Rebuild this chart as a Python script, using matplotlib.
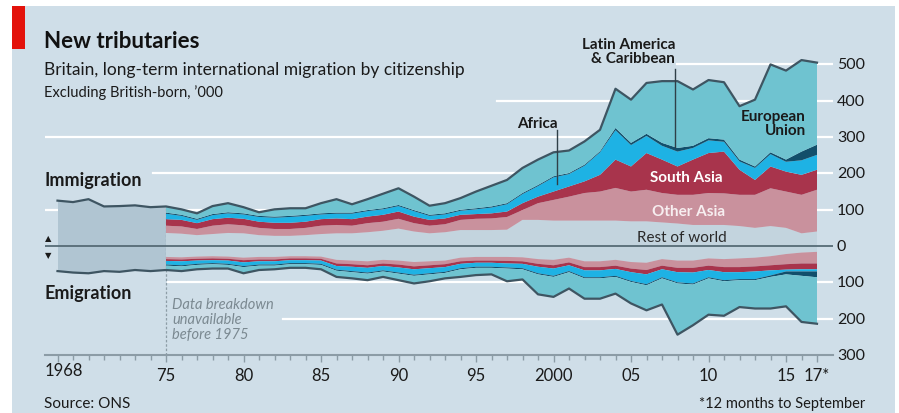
import numpy as np
import matplotlib
matplotlib.use("Agg")
import matplotlib.pyplot as plt
from matplotlib.patches import Rectangle

plt.rcParams['font.family'] = ['Lato', 'DejaVu Sans']

# Years with a breakdown by citizenship ('000), last point is 12 months to Sep 2017
years = list(range(1975, 2018))
# Totals only before 1975
pre_years = list(range(1968, 1975))
pre_immigration = [125, 121, 129, 109, 110, 112, 107]
pre_emigration = [69, 73, 75, 69, 71, 66, 69]

# Immigration by citizenship
imm_rest = [36, 34, 30, 33, 36, 35, 30, 28, 28, 30, 33, 35, 35, 38, 42, 48, 40, 35, 38, 44, 44, 44, 45,
            72, 72, 70, 70, 70, 70, 70, 68, 68, 65, 62, 58, 58, 58, 55, 50, 55, 50, 35, 40]
imm_other_asia = [20, 20, 17, 23, 24, 22, 20, 19, 19, 20, 23, 23, 21, 25, 25, 27, 23, 21, 22, 28, 31, 32, 35,
                  27, 46, 57, 66, 76, 80, 90, 82, 87, 81, 79, 83, 88, 87, 86, 91, 104, 100, 106, 115]
imm_south_asia = [18, 18, 16, 18, 18, 18, 17, 17, 17, 17, 18, 18, 18, 18, 19, 20, 18, 16, 16, 14, 13, 14, 15,
                  19, 18, 23, 28, 32, 46, 78, 69, 101, 92, 78, 97, 110, 115, 69, 41, 60, 55, 55, 55]
imm_africa = [15, 11, 9, 11, 12, 12, 13, 14, 16, 16, 13, 13, 15, 15, 15, 15, 15, 11, 11, 11, 13, 16, 20,
              25, 29, 39, 34, 43, 62, 81, 59, 47, 38, 41, 32, 35, 27, 23, 33, 34, 27, 40, 41]
imm_latam = [3] * 29 + [6, 6, 6, 8, 10, 6, 6, 6, 5, 4, 5, 6, 24, 28]
imm_eu = [17, 15, 15, 22, 25, 17, 10, 20, 21, 18, 28, 37, 23, 30, 40, 46, 37, 25, 28, 32, 46, 57, 64,
          69, 70, 66, 62, 64, 59, 108, 119, 140, 170, 184, 155, 160, 158, 147, 184, 242, 245, 252, 226]

# Emigration by citizenship
emi_rest = [30, 31, 29, 28, 29, 32, 30, 30, 28, 28, 29, 38, 40, 42, 38, 40, 44, 42, 40,
            32, 30, 30, 30, 31, 36, 38, 32, 42, 42, 38, 44, 46, 36, 40, 40, 34, 36, 34, 32, 28, 22, 18, 16]
emi_other_asia = [6, 6, 6, 6, 6, 7, 7, 7, 6, 6, 6, 10, 10, 11, 10, 11, 12, 11, 10,
                  10, 10, 10, 11, 11, 13, 15, 13, 16, 16, 16, 18, 20, 18, 20, 20, 20, 22, 24, 24, 25, 28, 30, 32]
emi_south_asia = [5, 5, 5, 5, 5, 6, 5, 5, 5, 5, 5, 7, 7, 7, 7, 8, 8, 8, 8,
                  7, 6, 6, 7, 7, 8, 9, 8, 9, 9, 9, 10, 12, 10, 12, 13, 12, 14, 14, 14, 14, 15, 16, 16]
emi_africa = [10, 11, 9, 8, 9, 10, 9, 9, 8, 8, 9, 10, 12, 13, 12, 14, 15, 14, 13,
              12, 11, 11, 11, 12, 18, 20, 16, 19, 19, 19, 24, 27, 22, 28, 30, 20, 22, 19, 21, 14, 5, 6, 6]
emi_latam = [3] * 39 + [4, 8, 12, 16]
emi_eu = [12, 13, 12, 12, 10, 17, 12, 10, 10, 10, 12, 17, 17, 18, 15, 18, 21, 19, 15,
          21, 20, 18, 35, 28, 55, 55, 45, 56, 56, 46, 59, 69, 72, 141, 112, 100, 95, 74, 78, 87, 88, 127, 128]

colors = ['#c3d4de', '#c9919d', '#a8344c', '#1eb2e4', '#124f6b', '#6fc3d0']
bg = '#cfdee8'
outline = '#3e5562'

imm = np.array([imm_rest, imm_other_asia, imm_south_asia, imm_africa, imm_latam, imm_eu])
emi = np.array([emi_rest, emi_other_asia, emi_south_asia, emi_africa, emi_latam, emi_eu])
imm_total = imm.sum(axis=0)
emi_total = emi.sum(axis=0)

fig = plt.figure(figsize=(8.99, 4.14), dpi=100)
fig.patch.set_facecolor('white')
fig.add_artist(Rectangle((12 / 899, 0), 883 / 899, 407 / 414, transform=fig.transFigure,
                         facecolor=bg, edgecolor='none', zorder=-2))
fig.add_artist(Rectangle((12 / 899, 1 - 50 / 414), 13 / 899, 43 / 414, transform=fig.transFigure,
                         facecolor='#e3120b', edgecolor='none', zorder=-1))

ax = fig.add_axes([45 / 899, 58 / 414, 788 / 899, 316 / 414])
ax.patch.set_visible(False)
ax.set_xlim(1975 - 121 / 15.5, 1975 + 667 / 15.5)
ax.set_ylim(-300, 570)

# white gridlines, each starting where the text around it ends
for val, start in [(500, 677), (400, 497), (300, 45), (200, 153), (100, 45), (-100, 168), (-200, 283)]:
    ax.axhline(val, xmin=(start - 45) / 788, xmax=1, color='white', lw=1.6, zorder=1)

# totals before the breakdown
block_x = pre_years + [1975]
ax.fill_between(block_x, [-v for v in pre_emigration] + [-emi_total[0]],
                pre_immigration + [imm_total[0]], color='#b0c5d2', lw=0, zorder=1.5)
ax.plot([1975, 1975], [-300, imm_total[0]], color='#8d9da6', lw=0.9, ls=(0, (2, 1.5)), zorder=1.6)

ax.stackplot(years, imm, colors=colors, lw=0, zorder=2)
ax.stackplot(years, -emi, colors=colors, lw=0, zorder=2)

ax.plot(pre_years + years, pre_immigration + list(imm_total), color=outline, lw=1.6, zorder=3)
ax.plot(pre_years + years, [-v for v in pre_emigration] + list(-emi_total), color=outline, lw=1.6, zorder=3)
ax.axhline(0, color='#566b75', lw=1.3, zorder=4)

# axes
for s in ['top', 'right', 'left']:
    ax.spines[s].set_visible(False)
ax.spines['bottom'].set_color('#8c9ca6')
ax.spines['bottom'].set_linewidth(1.5)
ax.set_yticks([])
ax.set_xticks([1968, 1975, 1980, 1985, 1990, 1995, 2000, 2005, 2010, 2015, 2017],
              labels=['', '75', '80', '85', '90', '95', '2000', '05', '10', '15', '17*'])
ax.set_xticks(range(1968, 2018), minor=True)
ax.tick_params(axis='x', which='major', length=5, width=1, color='#8c9ca6', pad=4,
               labelsize=12, labelcolor='#1a1a1a')
ax.tick_params(axis='x', which='minor', length=3.5, width=1, color='#8c9ca6')
ax.text(0, -0.022, '1968', transform=ax.transAxes, ha='left', va='top', fontsize=12, color='#1a1a1a')

for val in [500, 400, 300, 200, 100, 0, -100, -200, -300]:
    ax.text(1.005, val, str(abs(val)), transform=ax.get_yaxis_transform(), ha='left', va='center',
            fontsize=11.5, color='#1a1a1a')

# labels inside the chart
ax.text(1967.13, 184, 'Immigration', fontsize=13, fontweight='bold', color='#1a1a1a', va='center')
ax.text(1967.13, -127, 'Emigration', fontsize=13, fontweight='bold', color='#1a1a1a', va='center')
ax.text(1967.4, 24, '\u25b2', fontsize=6, color='#1a1a1a', ha='center', va='center', family='DejaVu Sans')
ax.text(1967.4, -23, '\u25bc', fontsize=6, color='#1a1a1a', ha='center', va='center', family='DejaVu Sans')
ax.text(1975.39, -139, 'Data breakdown\nunavailable\nbefore 1975', fontsize=10.5, style='italic',
        color='#7b8991', ha='left', va='top', linespacing=1.1)

ax.text(2007.84, 537, 'Latin America\n& Caribbean', fontsize=11, fontweight='bold', color='#1a1a1a',
        ha='right', va='center', linespacing=1.05)
ax.plot([2007.84, 2007.84], [487, 272], color='#2f3f47', lw=1, zorder=5)
ax.text(2000.3, 340, 'Africa', fontsize=11, fontweight='bold', color='#1a1a1a', ha='right', va='center')
ax.plot([2000.23, 2000.23], [319, 172], color='#2f3f47', lw=1, zorder=5)
ax.text(2016.29, 340, 'European\nUnion', fontsize=11, fontweight='bold', color='#1a1a1a',
        ha='right', va='center', linespacing=1.0)
ax.text(2008.6, 190, 'South Asia', fontsize=11, fontweight='bold', color='white', ha='center', va='center')
ax.text(2008.7, 96, 'Other Asia', fontsize=11, fontweight='bold', color='#f7eef0', ha='center', va='center')
ax.text(2008.3, 24, 'Rest of world', fontsize=11, color='#2a2a2a', ha='center', va='center')

# header and footer
fig.text(44 / 899, 1 - 48 / 414, 'New tributaries', fontsize=16, fontweight='bold', color='#111111',
         va='baseline')
fig.text(44 / 899, 1 - 75 / 414, 'Britain, long-term international migration by citizenship',
         fontsize=12.5, color='#1a1a1a', va='baseline')
fig.text(44 / 899, 1 - 97 / 414, 'Excluding British-born, \u2019000', fontsize=10.5, color='#1a1a1a',
         va='baseline')
fig.text(44 / 899, 1 - 408 / 414, 'Source: ONS', fontsize=11, color='#1a1a1a', va='baseline')
fig.text(865 / 899, 1 - 408 / 414, '*12 months to September', fontsize=10.5, color='#1a1a1a',
         va='baseline', ha='right')

fig.savefig('out.png', dpi=100, facecolor=fig.get_facecolor())
